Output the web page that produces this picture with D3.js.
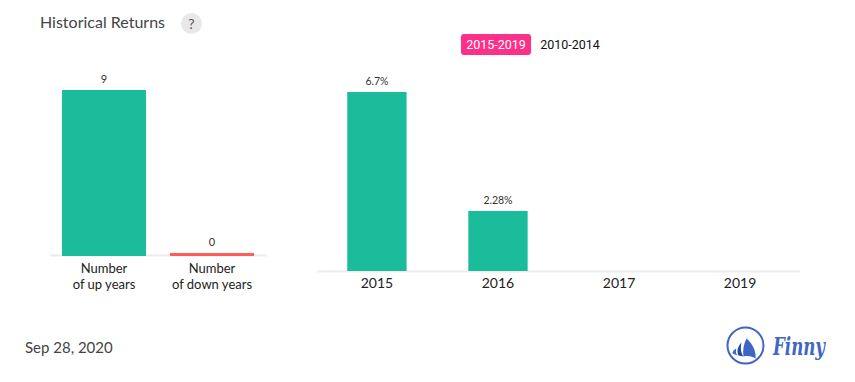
<!DOCTYPE html>
<html><head><meta charset="utf-8">
<script src="https://cdn.jsdelivr.net/npm/d3@7/dist/d3.min.js"></script>
<style>html,body{margin:0;padding:0;background:#fff}svg{display:block}text{font-family:Lato,sans-serif}</style>
</head><body><div id="c"></div>
<script>
const upDownCategories = ["up","down"];
const upDownLabels = [["Number","of up years"],["Number","of down years"]];
const upDownValues = [9,0];
const upDownColors = ["#1abc9c","#ff5b5b"];
const years = ["2015","2016","2017","2019"];
const yearReturns = [6.7,2.28,null,null];
const yearLabels = ["6.7%","2.28%","",""];

const svg = d3.select("#c").append("svg").attr("width",855).attr("height",382);

// header
svg.append("text").attr("x",40).attr("y",28).attr("font-size",16).attr("fill","#444").text("Historical Returns");
svg.append("circle").attr("cx",191.5).attr("cy",23.5).attr("r",10.5).attr("fill","#e8e8e8");
svg.append("text").attr("x",191.5).attr("y",28.5).attr("text-anchor","middle").attr("font-size",14).attr("fill","#555").text("?");

// toggle
svg.append("rect").attr("x",461).attr("y",34).attr("width",70).attr("height",21).attr("rx",3).attr("fill","#fc3088");
svg.append("text").attr("x",496).attr("y",49).attr("text-anchor","middle").style("font-family","Roboto").attr("font-size",12.5).attr("fill","#fff").text("2015-2019");
svg.append("text").attr("x",570).attr("y",49).attr("text-anchor","middle").style("font-family","Roboto").attr("font-size",12.5).attr("fill","#111").text("2010-2014");

// left chart
const x1 = d3.scaleBand().domain(upDownCategories).range([50,266]).paddingInner(24/108).paddingOuter(12/108);
const y1 = d3.scaleLinear().domain([0,9]).range([255,90]);
svg.append("line").attr("x1",50).attr("x2",267).attr("y1",255.5).attr("y2",255.5).attr("stroke","#ececec").attr("stroke-width",2);
upDownCategories.forEach((c,i)=>{
  const v = upDownValues[i], cx = x1(c)+x1.bandwidth()/2;
  const top = v===0 ? y1(0)-2 : y1(v);
  svg.append("rect").attr("x",x1(c)).attr("y",top).attr("width",x1.bandwidth()).attr("height",v===0?3:y1(0)-y1(v)+1).attr("fill",upDownColors[i]);
  svg.append("text").attr("x",cx).attr("y",top-7).attr("text-anchor","middle").attr("font-size",11).attr("fill","#333").text(v);
  upDownLabels[i].forEach((t,k)=>svg.append("text").attr("x",cx).attr("y",273+k*16).attr("text-anchor","middle").attr("font-size",13).attr("fill","#222").text(t));
});

// right chart
const x2 = d3.scaleBand().domain(years).range([317,800]).paddingInner(0.51).paddingOuter(0.25);
const y2 = d3.scaleLinear().domain([0,6.7]).range([271,92]);
const axis = svg.append("g").attr("transform","translate(0,271)").call(d3.axisBottom(x2).tickSize(0).tickPadding(7));
axis.select(".domain").remove();
axis.selectAll("text").attr("font-size",14).attr("fill","#222").style("font-family","Lato");
svg.insert("line","g").attr("x1",317).attr("x2",800).attr("y1",271.5).attr("y2",271.5).attr("stroke","#ececec").attr("stroke-width",2);
years.forEach((c,i)=>{
  const v = yearReturns[i]; if(v==null) return;
  const h = Math.floor(y2(0)-y2(v));
  svg.append("rect").attr("x",x2(c)).attr("y",y2(0)-h).attr("width",x2.bandwidth()).attr("height",h).attr("fill",upDownColors[0]);
  svg.append("text").attr("x",x2(c)+x2.bandwidth()/2).attr("y",y2(0)-h-7).attr("text-anchor","middle").attr("font-size",10.5).attr("fill","#333").text(yearLabels[i]);
});

// footer
svg.append("text").attr("x",25).attr("y",353).attr("font-size",15).attr("fill","#444").text("Sep 28, 2020");
const logo = svg.append("g").attr("transform","translate(745.5,345.5)");
logo.append("circle").attr("r",18).attr("fill","none").attr("stroke","#3f66c4").attr("stroke-width",2);
logo.append("path").attr("d","M1 -7 C7 -2 11 6 10 13 C7 11 3 10 -2 11 C-3 5 -2 -1 1 -7Z").attr("fill","#3f66c4");
logo.append("path").attr("d","M-4 -3 C-5 2 -5 7 -2 11 L-7 10 C-9 6 -8 1 -4 -3Z").attr("fill","#2347a8");
logo.append("path").attr("d","M-9 3 C-10 5 -10 8 -8 10 L-13 8 C-13 6 -12 4 -9 3Z").attr("fill","#3f66c4");
svg.append("text").attr("x",773).attr("y",355).style("font-family","'DejaVu Serif'").attr("font-style","italic").attr("font-weight","bold").attr("font-size",24).attr("textLength",52).attr("lengthAdjust","spacingAndGlyphs").attr("fill","#3f66c4").text("Finny");
</script></body></html>
